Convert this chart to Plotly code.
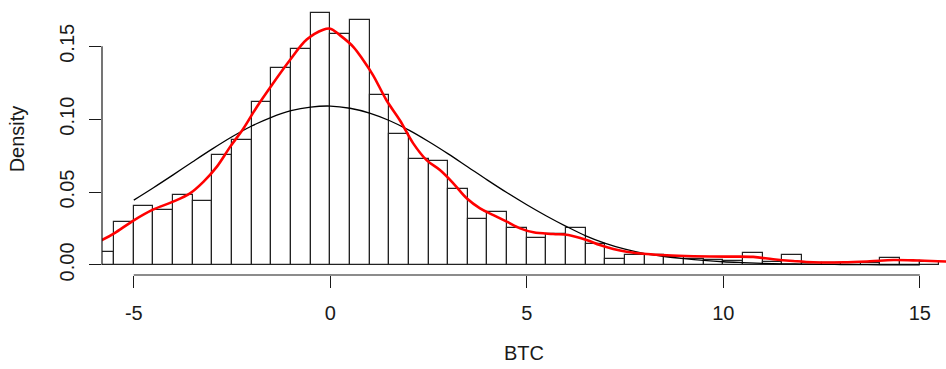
import plotly.graph_objects as go

# Histogram (bin width 0.5), left edges and densities
bin_left = [-6.0, -5.5, -5.0, -4.5, -4.0, -3.5, -3.0, -2.5, -2.0, -1.5, -1.0, -0.5,
            0.0, 0.5, 1.0, 1.5, 2.0, 2.5, 3.0, 3.5, 4.0, 4.5, 5.0, 5.5, 6.0, 6.5,
            7.0, 7.5, 8.0, 8.5, 9.0, 9.5, 10.0, 10.5, 11.0, 11.5, 12.0, 12.5, 13.0,
            13.5, 14.0, 14.5, 15.0]
density = [0.0087, 0.0292, 0.0402, 0.0379, 0.0479, 0.0436, 0.0753, 0.0854, 0.1121,
           0.1351, 0.1479, 0.1728, 0.1584, 0.1683, 0.1164, 0.0899, 0.0728, 0.0710,
           0.0523, 0.0317, 0.0361, 0.0256, 0.0187, 0.0215, 0.0256, 0.0145, 0.0041,
           0.0067, 0.0065, 0.0057, 0.0043, 0.0036, 0.0027, 0.0084, 0.0018, 0.0068,
           0.0011, 0.0011, 0.0000, 0.0011, 0.0046, 0.0027, 0.0018]
bin_width = 0.5

# Fitted normal curve (black)
norm_x = [-5.0, -4.5, -4.0, -3.5, -3.0, -2.5, -2.0, -1.5, -1.0, -0.5, 0.0, 0.5, 1.0,
          1.5, 2.0, 2.5, 3.0, 3.5, 4.0, 4.5, 5.0, 5.5, 6.0, 6.5, 7.0, 7.5, 8.0, 8.5,
          9.0, 9.5, 10.0, 10.5, 11.0, 11.5, 12.0, 12.5, 13.0, 13.5, 14.0, 14.5, 15.0]
norm_y = [0.0445, 0.0530, 0.0618, 0.0708, 0.0796, 0.0879, 0.0953, 0.1013, 0.1058,
          0.1083, 0.1090, 0.1075, 0.1042, 0.0991, 0.0925, 0.0847, 0.0762, 0.0672,
          0.0582, 0.0495, 0.0413, 0.0336, 0.0265, 0.0200, 0.0148, 0.0108, 0.0078,
          0.0058, 0.0043, 0.0031, 0.0022, 0.0016, 0.0011, 0.0008, 0.0006, 0.0004,
          0.0003, 0.0002, 0.0001, 0.0001, 0.0000]

# Kernel density estimate (red)
kde_x = [-5.85, -5.50, -5.02, -4.50, -4.00, -3.57, -3.23, -2.89, -2.55, -2.21, -1.87,
         -1.49, -1.03, -0.60, -0.18, 0.00, 0.25, 0.59, 0.84, 1.09, 1.43, 1.77, 2.11,
         2.45, 2.79, 3.13, 3.47, 3.81, 4.15, 4.49, 4.83, 5.17, 5.67, 6.06, 6.52, 6.86,
         7.20, 7.54, 8.05, 8.56, 9.24, 10.09, 10.76, 11.27, 11.78, 12.29, 13.05, 13.73,
         14.33, 15.00, 15.70]
kde_y = [0.0165, 0.0217, 0.0303, 0.0381, 0.0434, 0.0491, 0.0570, 0.0673, 0.0810,
         0.0936, 0.1084, 0.1233, 0.1404, 0.1546, 0.1614, 0.1621, 0.1575, 0.1495,
         0.1404, 0.1301, 0.1130, 0.0993, 0.0834, 0.0719, 0.0651, 0.0560, 0.0457,
         0.0388, 0.0342, 0.0297, 0.0251, 0.0224, 0.0212, 0.0205, 0.0171, 0.0137,
         0.0110, 0.0091, 0.0075, 0.0066, 0.0060, 0.0057, 0.0055, 0.0039, 0.0027,
         0.0018, 0.0018, 0.0025, 0.0034, 0.0030, 0.0023]

x_ticks = [-5, 0, 5, 10, 15]
y_ticks = [0.00, 0.05, 0.10, 0.15]
y_tick_text = ["0.00", "0.05", "0.10", "0.15"]

FONT = "Liberation Sans, Arial, sans-serif"
INK = "#1a1a1a"

fig = go.Figure()
fig.add_trace(go.Bar(
    x=[b + bin_width / 2 for b in bin_left], y=density, width=bin_width,
    marker=dict(color="rgba(0,0,0,0)", line=dict(color="#222222", width=1.2)),
    hoverinfo="skip", showlegend=False))
fig.add_trace(go.Scatter(
    x=norm_x, y=norm_y, mode="lines", line=dict(color="#000000", width=1.3, shape="spline"),
    showlegend=False))
fig.add_trace(go.Scatter(
    x=kde_x, y=kde_y, mode="lines", line=dict(color="#ff0000", width=2.6, shape="spline"),
    showlegend=False))

# R-style detached axis lines
fig.add_shape(type="line", xref="x", yref="paper", x0=x_ticks[0], x1=x_ticks[-1], y0=0, y1=0,
              line=dict(color=INK, width=1.2))
fig.add_shape(type="line", xref="paper", yref="y", x0=0, x1=0, y0=y_ticks[0], y1=y_ticks[-1],
              line=dict(color=INK, width=1.2))

fig.update_layout(
    width=946, height=369,
    margin=dict(l=102, r=0, t=3, b=94),
    paper_bgcolor="white", plot_bgcolor="white",
    font=dict(family=FONT, size=20, color=INK),
    bargap=0,
    xaxis=dict(range=[-5.809, 15.667], tickvals=x_ticks, ticktext=[str(t) for t in x_ticks],
               ticks="outside", ticklen=12, tickwidth=1.2, tickcolor=INK,
               showgrid=False, zeroline=False, showline=False,
               ticklabelstandoff=8,
               title=dict(text="BTC", standoff=22, font=dict(size=20))),
    yaxis=dict(range=[-0.0069, 0.1797], tickvals=y_ticks, ticktext=y_tick_text,
               ticks="outside", ticklen=12, tickwidth=1.2, tickcolor=INK, tickangle=-90,
               showgrid=False, zeroline=False, showline=False,
               ticklabelstandoff=7,
               title=dict(text="Density", standoff=26, font=dict(size=20))),
)

fig.write_html("out.html")
